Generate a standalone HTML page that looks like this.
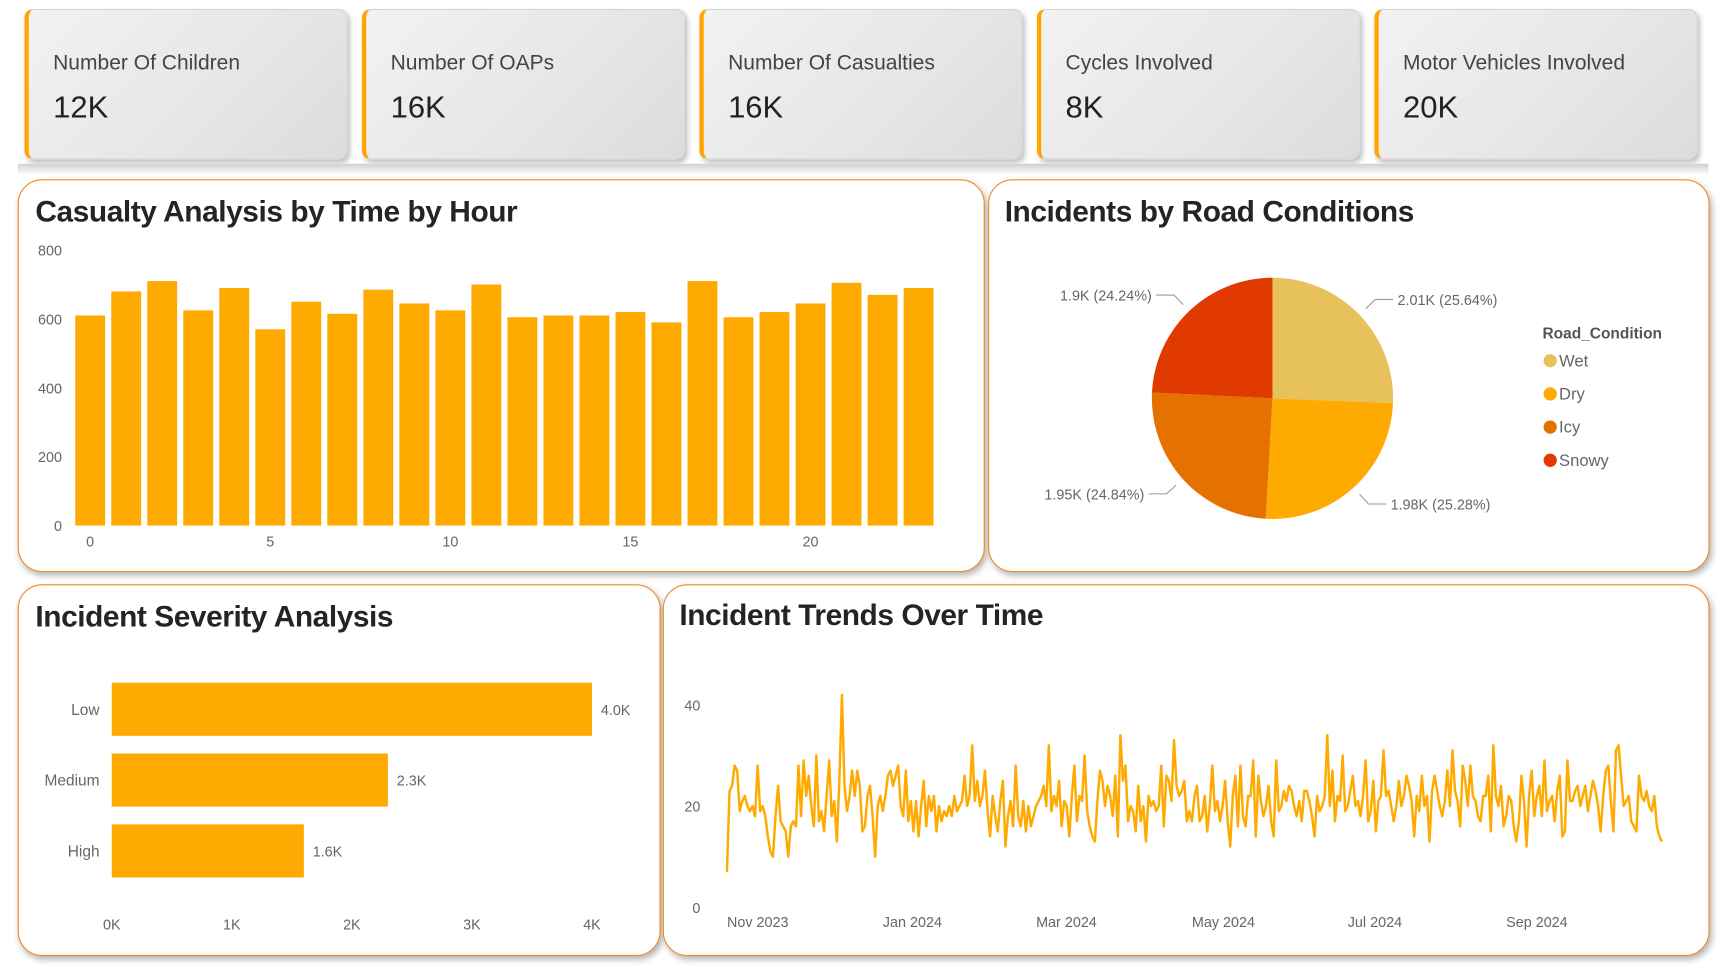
<!DOCTYPE html>
<html><head><meta charset="utf-8">
<style>
html,body{margin:0;padding:0;background:#fff;width:1735px;height:971px;overflow:hidden;font-family:"Liberation Sans",sans-serif}
#wrap{position:absolute;left:0;top:0;width:1568px;height:878px;transform:scale(1.1065);transform-origin:0 0}
.card{position:absolute;top:8px;width:292px;height:136px;border-radius:8px;border:1px solid #d6d6d6;border-left:4px solid #FFA500;background:linear-gradient(135deg,#f2f2f2 0%,#e6e6e6 60%,#dcdcdc 100%);box-shadow:2px 3px 5px rgba(0,0,0,.25);box-sizing:border-box}
.card .lbl{position:absolute;left:22px;top:38px;font-size:19px;color:#444}
.card .val{position:absolute;left:22px;top:72px;font-size:28px;color:#222}
.band{position:absolute;left:16px;top:148px;width:1528px;height:10px;background:linear-gradient(#d0d0d0,#fff)}
.panel{position:absolute;border:1.5px solid #F08A24;border-radius:22px;background:#fff;box-shadow:2px 3px 6px rgba(0,0,0,.3);box-sizing:border-box}
.title{position:absolute;font-size:27px;font-weight:bold;color:#252423;letter-spacing:-0.4px}
svg text{font-family:"Liberation Sans",sans-serif}
</style></head><body>
<div id="wrap">
<div class="card" style="left:22px"><div class="lbl">Number Of Children</div><div class="val">12K</div></div>
<div class="card" style="left:327px"><div class="lbl">Number Of OAPs</div><div class="val">16K</div></div>
<div class="card" style="left:632px"><div class="lbl">Number Of Casualties</div><div class="val">16K</div></div>
<div class="card" style="left:937px"><div class="lbl">Cycles Involved</div><div class="val">8K</div></div>
<div class="card" style="left:1242px"><div class="lbl">Motor Vehicles Involved</div><div class="val">20K</div></div>
<div class="band"></div>

<div class="panel" style="left:16px;top:162px;width:874px;height:355px"></div>
<div class="title" style="left:32px;top:176px">Casualty Analysis by Time by Hour</div>
<div class="panel" style="left:893px;top:162px;width:652px;height:355px"></div>
<div class="title" style="left:908px;top:176px">Incidents by Road Conditions</div>
<div class="panel" style="left:16px;top:528px;width:581px;height:336px"></div>
<div class="title" style="left:32px;top:542px">Incident Severity Analysis</div>
<div class="panel" style="left:599px;top:528px;width:946px;height:336px"></div>
<div class="title" style="left:614px;top:541px">Incident Trends Over Time</div>

<svg id="svg" width="1568" height="878" style="position:absolute;left:0;top:0"></svg>
</div>
<script>
const hours=[0,1,2,3,4,5,6,7,8,9,10,11,12,13,14,15,16,17,18,19,20,21,22,23];
const hourValues=[610,680,710,625,690,570,650,615,685,645,625,700,605,610,610,620,590,710,605,620,645,705,670,690];
const hourYTicks=[0,200,400,600,800];
const hourXTicks=[0,5,10,15,20];
const roadCats=["Wet","Dry","Icy","Snowy"];
const roadValues=[2010,1980,1950,1900];
const roadLabels=["2.01K (25.64%)","1.98K (25.28%)","1.95K (24.84%)","1.9K (24.24%)"];
const roadColors=["#E6C15C","#FFAA00","#E57200","#E03A00"];
const sevCats=["Low","Medium","High"];
const sevValues=[4000,2300,1600];
const sevLabels=["4.0K","2.3K","1.6K"];
const sevTicks=[0,1000,2000,3000,4000];
const trendYTicks=[0,20,40];
const trendMonths=["Nov 2023","Jan 2024","Mar 2024","May 2024","Jul 2024","Sep 2024"];
const trendMonthDay=[0,61,121,182,243,305];
const trendValues=[7,23,24,28,27,19,21,22,20,19,20,18,28,19,20,18,14,11,10,18,24,17,16,15,10,16,17,16,28,18,29,
22,26,20,16,30,17,19,15,22,29,18,21,13,25,42,24,19,22,27,22,27,24,15,16,22,24,18,10,20,22,19,
22,26,27,24,26,28,20,18,27,17,21,15,21,14,20,25,16,22,19,22,15,20,17,19,18,20,18,22,19,20,21,
26,20,22,32,21,25,20,22,27,19,14,22,18,15,21,25,12,18,21,16,28,18,16,21,15,20,16,18,20,
21,22,24,20,32,19,22,20,25,16,21,20,14,22,28,17,22,21,30,19,16,14,13,21,27,25,20,24,22,18,26,
14,34,25,28,17,20,19,15,24,17,20,13,22,20,21,19,20,28,16,26,25,21,33,24,22,23,25,17,19,17,
22,24,17,18,22,15,20,28,19,21,17,20,25,17,12,22,26,16,28,18,16,22,22,29,14,26,21,18,20,24,17,
14,29,19,20,23,21,24,23,20,18,21,17,23,23,21,18,14,22,19,20,22,34,20,27,17,22,21,30,19,20,
23,26,20,21,18,22,29,17,19,25,15,21,22,31,22,23,20,17,20,25,20,22,26,24,21,14,22,19,26,20,22,
13,23,26,23,20,18,21,27,20,31,23,21,16,28,25,20,28,22,21,18,17,22,22,26,15,32,22,20,24,16,18,
22,21,16,13,17,26,21,12,22,27,18,22,24,18,29,19,21,22,17,23,26,14,15,29,21,21,23,24,20,22,
24,19,22,25,23,20,15,22,27,28,21,15,31,32,26,20,21,22,17,16,15,26,22,21,23,20,19,22,16,14,13];

const NS="http://www.w3.org/2000/svg";
const svg=document.getElementById('svg');
function mk(tag,attrs,txt){const e=document.createElementNS(NS,tag);for(const k in attrs)e.setAttribute(k,attrs[k]);if(txt!==undefined)e.textContent=txt;svg.appendChild(e);return e;}

// hourly bars
const hy=v=>475-v*(249/800);
const hx=i=>68+i*32.55;
hourYTicks.forEach(t=>{const e=mk('text',{x:56,y:hy(t)+5,'text-anchor':'end','font-size':13,fill:'#666'},t);

});
hourXTicks.forEach(t=>{const e=mk('text',{x:hx(t)+13.5,y:494,'text-anchor':'middle','font-size':13,fill:'#666'},t);

});
hours.forEach((h,i)=>{const e=mk('rect',{x:hx(i),y:hy(hourValues[i]),width:27,height:hy(0)-hy(hourValues[i]),fill:'#FFAA00'});

});

// pie
const cx=1150,cy=360,r=109;
const tot=roadValues.reduce((a,b)=>a+b,0);
let ang=0;
roadValues.forEach((v,i)=>{const a0=ang,a1=ang+v/tot*2*Math.PI;ang=a1;
const x0=cx+r*Math.sin(a0),y0=cy-r*Math.cos(a0),x1=cx+r*Math.sin(a1),y1=cy-r*Math.cos(a1);
const p=mk('path',{d:`M${cx},${cy}L${x0},${y0}A${r},${r} 0 ${a1-a0>Math.PI?1:0} 1 ${x1},${y1}Z`,fill:roadColors[i]});


const am=(a0+a1)/2,sx=Math.sin(am),sy=-Math.cos(am);
const ex=cx+(r+8)*sx,ey=cy+(r+8)*sy,kx=cx+(r+20)*sx,ky=cy+(r+20)*sy;
const right=sx>0;const hx2=kx+(right?16:-16);
mk('polyline',{points:`${ex},${ey} ${kx},${ky} ${hx2},${ky}`,fill:'none',stroke:'#999','stroke-width':1});
const t=mk('text',{x:hx2+(right?4:-4),y:ky+5,'text-anchor':right?'start':'end','font-size':13,fill:'#666'},roadLabels[i]);

});
const lt=mk('text',{x:1394,y:306,'font-size':14,'font-weight':'bold',fill:'#555'},'Road_Condition');


roadCats.forEach((c,i)=>{const y=326+i*30;
const d=mk('circle',{cx:1401,cy:y,r:6,fill:roadColors[i]});


const t=mk('text',{x:1409,y:y+5,'font-size':15,fill:'#666'},c);

});

// severity bars
const sx=v=>101+v*(434/4000);
sevTicks.forEach(t=>{const e=mk('text',{x:sx(t),y:840,'text-anchor':'middle','font-size':13,fill:'#666'},(t/1000)+'K');

});
sevCats.forEach((c,i)=>{const y=617+i*64;
const b=mk('rect',{x:sx(0),y:y,width:sx(sevValues[i])-sx(0),height:48,fill:'#FFAA00'});


const l=mk('text',{x:90,y:y+29,'text-anchor':'end','font-size':14,fill:'#666'},c);


const v=mk('text',{x:sx(sevValues[i])+8,y:y+29,'font-size':13,fill:'#666'},sevLabels[i]);

});

// trend line
const ty=v=>820-v*(183/40);
const tx=i=>657+i*(845/(trendValues.length-1));
trendYTicks.forEach(t=>{const e=mk('text',{x:633,y:ty(t)+5,'text-anchor':'end','font-size':13,fill:'#666'},t);

});
trendMonths.forEach((m,i)=>{const e=mk('text',{x:tx(trendMonthDay[i]),y:838,'font-size':13,fill:'#666'},m);

});
const pl=mk('polyline',{points:trendValues.map((v,i)=>tx(i)+','+ty(v)).join(' '),fill:'none',stroke:'#FFAA00','stroke-width':2.2,'stroke-linejoin':'round'});


</script>
</body></html>
